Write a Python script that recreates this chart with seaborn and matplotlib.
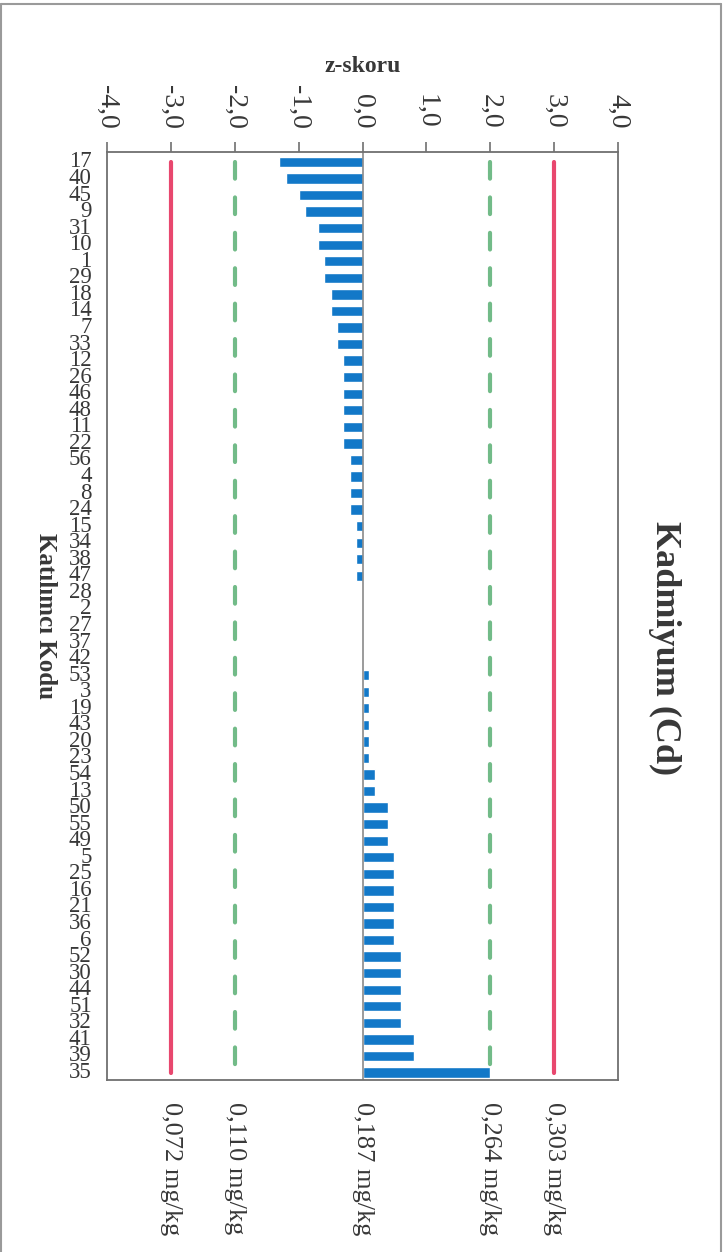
import matplotlib
matplotlib.use("Agg")
import matplotlib.pyplot as plt
import pandas as pd
import seaborn as sns
from matplotlib.lines import Line2D

participants = [
    "17", "40", "45", "9", "31", "10", "1", "29", "18", "14",
    "7", "33", "12", "26", "46", "48", "11", "22", "56", "4",
    "8", "24", "15", "34", "38", "47", "28", "2", "27", "37",
    "42", "53", "3", "19", "43", "20", "23", "54", "13", "50",
    "55", "49", "5", "25", "16", "21", "36", "6", "52", "30",
    "44", "51", "32", "41", "39", "35",
]
z_scores = [
    -1.3, -1.2, -1.0, -0.9, -0.7, -0.7, -0.6, -0.6, -0.5, -0.5,
    -0.4, -0.4, -0.3, -0.3, -0.3, -0.3, -0.3, -0.3, -0.2, -0.2,
    -0.2, -0.2, -0.1, -0.1, -0.1, -0.1, 0.0, 0.0, 0.0, 0.0,
    0.0, 0.1, 0.1, 0.1, 0.1, 0.1, 0.1, 0.2, 0.2, 0.4,
    0.4, 0.4, 0.5, 0.5, 0.5, 0.5, 0.5, 0.5, 0.6, 0.6,
    0.6, 0.6, 0.6, 0.8, 0.8, 2.0,
]
z_ticks = [-4, -3, -2, -1, 0, 1, 2, 3, 4]
limit_z = [-3, -2, 2, 3]
limit_kind = ["action", "warning", "warning", "action"]
conc_z = [-3, -2, 0, 2, 3]
conc_labels = ["0,072 mg/kg", "0,110 mg/kg", "0,187 mg/kg", "0,264 mg/kg", "0,303 mg/kg"]

df = pd.DataFrame({"kod": participants, "z": z_scores})

sns.set_style("white")
plt.rcParams["font.family"] = ["Liberation Serif", "DejaVu Serif"]
txt = "#383838"
grey = "#707070"

fig = plt.figure(figsize=(7.28, 12.52), dpi=100)
ax = fig.add_axes([0.147, 0.1374, 0.702, 0.7412])

sns.barplot(data=df, x="z", y="kod", order=participants, orient="h",
            color="#1278c8", saturation=1, width=0.62, ax=ax)

n = len(participants)
for z, kind in zip(limit_z, limit_kind):
    if kind == "action":
        ax.vlines(z, 0, n - 1, color="#e8476e", lw=3, capstyle="round", zorder=3)
    else:
        ax.vlines(z, 0, n - 1, color="#72bb88", lw=3, linestyles=(0, (4, 4.5)),
                  capstyle="round", zorder=3)
ax.axvline(0, color="#8a8a8a", lw=1.2, zorder=1)

ax.set_xlim(-4, 4)
ax.set_ylim(n - 1 + 0.45, -0.6)
ax.set_xticks(z_ticks)
ax.set_xticklabels([f"{t:.1f}".replace(".", ",") for t in z_ticks],
                   rotation=-90, fontsize=20, color=txt)
ax.xaxis.tick_top()
ax.xaxis.set_label_position("top")
ax.tick_params(axis="x", which="both", top=True, bottom=False, length=7,
               width=1.2, color=grey, pad=10)
ax.tick_params(axis="y", length=0, pad=11, labelsize=16.5, labelcolor=txt)
for lab in ax.get_yticklabels():
    lab.set_verticalalignment("center")

ax.set_xlabel("z-skoru", fontsize=17, fontweight="bold", color=txt, labelpad=9)
ax.set_ylabel("Katılımcı Kodu", fontsize=18, fontweight="bold", color=txt,
              rotation=-90, va="center", ha="center")
ax.yaxis.set_label_coords(-0.121, 0.5)

for s in ax.spines.values():
    s.set_visible(True)
    s.set_color(grey)
    s.set_linewidth(1.3)

for z, lab in zip(conc_z, conc_labels):
    ax.text(z, -0.024, lab, transform=ax.get_xaxis_transform(), rotation=-90,
            ha="center", va="top", fontsize=19, color=txt)

fig.text(665 / 728, 1 - 648 / 1252, "Kadmiyum (Cd)", rotation=-90, ha="center",
         va="center", fontsize=26, fontweight="bold", color=txt)

# page frame from the scan
for xs, ys in [([0.0015, 0.99], [0.997, 0.997]), ([0.0015, 0.0015], [0.0, 0.997]),
               ([0.99, 0.99], [0.0, 0.997])]:
    fig.add_artist(Line2D(xs, ys, transform=fig.transFigure, color="#9a9a9a", lw=1.5))

fig.savefig("out.png", dpi=100)
